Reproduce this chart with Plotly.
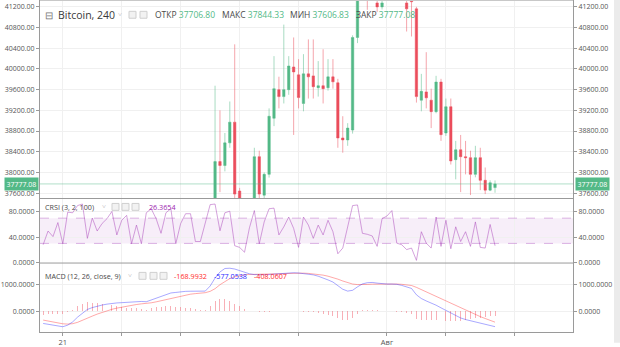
import pandas as pd
import plotly.graph_objects as go

# ---------------- data ----------------
times = pd.date_range("2021-07-20 08:00", periods=93, freq="4h")
candle_times = times[35:]

open_ = [37100, 38209, 38133, 38571, 38971, 37640, 37200, 37300, 37200, 38304,
         37560, 37962, 39047, 39600, 39466, 39600, 40038, 39886, 39333, 39905,
         39866, 39638, 39676, 39638, 39847, 39733, 38666, 38628, 38819, 40609,
         41700, 42000, 41800, 41276, 41200, 41450, 41600, 41500, 41500, 41276,
         41340, 41162, 39396, 39556, 39396, 39175, 39747, 38762, 39270, 38247,
         38438, 38304, 38285, 37962, 38285, 37847, 37657, 37706.80]
high_ = [39676, 39200, 38762, 39371, 40476, 37700, 37450, 37480, 38476, 38419,
         38000, 39238, 40248, 39850, 40857, 40248, 40609, 40190, 40286, 40571,
         40571, 40152, 40381, 40190, 40190, 39809, 39086, 38952, 40650, 41900,
         42200, 42300, 42100, 41600, 41500, 41800, 41900, 41700, 41700, 41350,
         41500, 41200, 39905, 40324, 39619, 39867, 39809, 39428, 39428, 38609,
         38724, 38609, 38419, 38514, 38476, 38095, 37847, 37844.33]
low_ = [36800, 37619, 38020, 38476, 37450, 36900, 36950, 36800, 37000, 37450,
        37400, 37900, 38895, 39238, 39333, 39500, 38724, 39238, 39181, 39428,
        39428, 39466, 39333, 39581, 39619, 38476, 38381, 38514, 38750, 40500,
        41450, 41143, 41400, 41100, 41150, 41400, 41400, 41350, 41400, 40724,
        40628, 39350, 39181, 39238, 38857, 39143, 38609, 38705, 38152, 37866,
        37619, 37962, 37562, 37905, 37657, 37581, 37638, 37606.83]
close_ = [38209, 38133, 38571, 38971, 37581, 37200, 37300, 37100, 38304, 37581,
          37962, 39085, 39619, 39466, 39600, 40057, 39943, 39447, 39905, 39848,
          39657, 39676, 39619, 39847, 39752, 38666, 38628, 38857, 40609, 41700,
          42000, 41800, 41950, 41200, 41276, 41600, 41500, 41450, 41450, 41162,
          41300, 39466, 39567, 39442, 39175, 39747, 38730, 39270, 38222, 38438,
          38304, 38285, 37962, 38285, 37847, 37657, 37800, 37777.08]

crsi = [27.9, 49.6, 40.8, 63.0, 29.4, 79.5, 78.5, 89.9, 92.4, 38.0,
        70.2, 49.6, 61.5, 69.2, 80.6, 43.4, 66.6, 74.4, 29.4, 59.0,
        29.4, 78.5, 84.9, 69.2, 46.0, 78.5, 84.9, 29.4, 61.5, 77.0,
        77.0, 33.0, 33.0, 61.5, 91.4,
        92.4, 50.0, 78.5, 81.0, 26.3, 23.7, 16.0, 54.7, 82.0, 29.4,
        64.0, 84.9, 85.9, 43.4, 56.3, 71.8, 53.7, 23.7, 71.8, 59.0,
        38.0, 59.0, 43.4, 66.6, 48.5, 13.6, 22.6, 56.3, 89.9, 90.9,
        46.0, 44.4, 41.8, 25.3, 69.2, 73.4, 82.0, 30.4, 27.9, 20.2,
        22.6, 3.1, 48.5, 30.4, 22.6, 71.8, 25.3, 66.6, 21.6, 56.3,
        33.0, 48.5, 25.3, 64.0, 23.7, 22.6, 60.0, 26.3654]

macd = [-456, -490, -530, -560, -580, -520, -400, -220, -60, 70,
        140, 200, 235, 270, 300, 315, 325, 335, 360, 380,
        370, 360, 430, 500, 560, 640, 690, 710, 735, 750,
        755, 750, 745, 760, 950,
        1250, 1480, 1610, 1620, 1590, 1530, 1460, 1410, 1380, 1370,
        1375, 1385, 1400, 1415, 1425, 1440, 1450, 1440, 1420, 1400,
        1370, 1320, 1260, 1180, 1100, 960, 830, 760, 790, 920,
        1030, 1075, 1085, 1060, 1035, 1025, 1025, 1015, 975, 920,
        860, 620, 480, 390, 320, 230, 130, 40, -60, -170,
        -250, -310, -350, -400, -440, -490, -535, -577.0538]

signal = [-330, -370, -410, -440, -470, -480, -465, -415, -345, -262,
          -180, -105, -40, 20, 75, 120, 160, 195, 225, 255,
          280, 295, 320, 355, 395, 445, 495, 540, 580, 615,
          645, 665, 680, 700, 750,
          850, 1000, 1130, 1230, 1300, 1350, 1375, 1385, 1385, 1385,
          1390, 1395, 1400, 1410, 1420, 1430, 1435, 1440, 1435, 1425,
          1410, 1390, 1360, 1320, 1270, 1210, 1140, 1075, 1025, 1005,
          1000, 1010, 1020, 1025, 1028, 1028, 1028, 1025, 1015, 995,
          970, 900, 815, 730, 650, 565, 480, 390, 300, 205,
          115, 30, -50, -130, -200, -270, -340, -408.0607]

hist = [-126, -120, -120, -120, -110, -40, 65, 195, 285, 332,
        320, 305, 275, 250, 225, 195, 165, 140, 135, 125,
        90, 65, 110, 145, 165, 195, 195, 170, 155, 135,
        110, 85, 65, 60, 200,
        400, 480, 480, 390, 290, 180, 85, 25, -5, -15,
        -15, -10, 0, 5, 5, 10, 15, 0, -15, -25,
        -40, -70, -100, -140, -170, -250, -310, -315, -235, -85,
        30, 65, 65, 35, 7, -3, -3, -10, -40, -75,
        -110, -280, -335, -340, -330, -335, -350, -350, -360, -375,
        -365, -340, -300, -270, -240, -220, -195, -168.9932]

price_ticks = [37600, 38000, 38400, 38800, 39200, 39600, 40000, 40400, 40800, 41200]
crsi_ticks = [0, 40, 80]
macd_ticks = [0, 1000]
band_low, band_high = 30, 70
x_ticks = ["2021-07-21", "2021-07-23", "2021-07-25", "2021-07-27", "2021-07-29",
           "2021-08-01", "2021-08-03", "2021-08-05 08:00"]
x_tick_labels = ["21", "", "", "", "", "Авг", "", ""]

# ---------------- style ----------------
FONT = "Open Sans"
UP = "#53b987"
DOWN = "#eb4d5c"
AX = "#9a9a9a"
GRID = "#f0f0f0"
TICKFONT = dict(family=FONT, size=7, color="#555555")

def px(x):
    return (x - 40) / 533

def py(y):
    return (337 - y) / 337

fig = go.Figure()

fig.add_trace(go.Candlestick(
    x=candle_times, open=open_, high=high_, low=low_, close=close_,
    xaxis="x2", yaxis="y",
    increasing=dict(line=dict(color="rgba(83,185,135,0.5)", width=1), fillcolor=UP),
    decreasing=dict(line=dict(color="rgba(235,77,92,0.5)", width=1), fillcolor=DOWN),
    showlegend=False, hoverinfo="skip"))
fig.add_trace(go.Scatter(x=[candle_times[-1]], y=[close_[-1]], xaxis="x2", yaxis="y4",
                         mode="markers", marker=dict(opacity=0), showlegend=False, hoverinfo="skip"))

fig.add_trace(go.Scatter(x=times, y=crsi, xaxis="x3", yaxis="y2", mode="lines",
                         line=dict(color="rgba(171,71,188,0.5)", width=1),
                         showlegend=False, hoverinfo="skip"))
fig.add_trace(go.Scatter(x=[times[-1]], y=[crsi[-1]], xaxis="x3", yaxis="y5",
                         mode="markers", marker=dict(opacity=0), showlegend=False, hoverinfo="skip"))

fig.add_trace(go.Bar(x=times, y=hist, xaxis="x", yaxis="y3",
                     width=0.2 * 4 * 3600 * 1000,
                     marker=dict(color="rgba(240,80,95,0.45)", line=dict(width=0)),
                     showlegend=False, hoverinfo="skip"))
fig.add_trace(go.Scatter(x=times, y=signal, xaxis="x", yaxis="y3", mode="lines",
                         line=dict(color="rgba(255,40,40,0.4)", width=1),
                         showlegend=False, hoverinfo="skip"))
fig.add_trace(go.Scatter(x=times, y=macd, xaxis="x", yaxis="y3", mode="lines",
                         line=dict(color="rgba(40,40,255,0.4)", width=1),
                         showlegend=False, hoverinfo="skip"))
fig.add_trace(go.Scatter(x=[times[-1]], y=[macd[-1]], xaxis="x", yaxis="y6",
                         mode="markers", marker=dict(opacity=0), showlegend=False, hoverinfo="skip"))

x_range = ["2021-07-20 05:26", "2021-08-07 07:30"]
d_main = [py(201.5), 1]
d_crsi = [py(267), py(201.5)]
d_macd = [0, py(267)]

xbase = dict(type="date", range=x_range, tickvals=x_ticks, showgrid=True,
             gridcolor=GRID, zeroline=False, domain=[0, 1])

yaxis_common = dict(showgrid=True, gridcolor=GRID, zeroline=False, showline=True,
                    linecolor=AX, ticks="outside", ticklen=3, tickcolor=AX,
                    tickfont=TICKFONT)

def fmt(vals, n):
    return [f"{v:.{n}f}" for v in vals]

main_range = [37495.2, 41333.3]
crsi_range = [-1.1, 101.1]
macd_range = [-778, 1815]

fig.update_layout(
    width=620, height=347,
    margin=dict(l=40, r=47, t=0, b=10),
    paper_bgcolor="white", plot_bgcolor="white",
    showlegend=False, bargap=0,
    xaxis=dict(xbase, anchor="y3", ticktext=x_tick_labels, ticks="outside", ticklen=3,
               tickcolor=AX, showline=True, linecolor=AX,
               tickfont=dict(family=FONT, size=7.5, color="#555555")),
    xaxis2=dict(xbase, anchor="y", matches="x", showticklabels=False,
                rangeslider=dict(visible=False)),
    xaxis3=dict(xbase, anchor="y2", matches="x", showticklabels=False),
    yaxis=dict(yaxis_common, domain=d_main, range=main_range, tickvals=price_ticks,
               ticktext=fmt(price_ticks, 2), side="left", anchor="x2"),
    yaxis4=dict(yaxis_common, overlaying="y", side="right", anchor="x2", range=main_range,
                tickvals=price_ticks, ticktext=fmt(price_ticks, 2), showgrid=False),
    yaxis2=dict(yaxis_common, domain=d_crsi, range=crsi_range, tickvals=crsi_ticks,
                ticktext=fmt(crsi_ticks, 4), side="left", anchor="x3"),
    yaxis5=dict(yaxis_common, overlaying="y2", side="right", anchor="x3", range=crsi_range,
                tickvals=crsi_ticks, ticktext=fmt(crsi_ticks, 4), showgrid=False),
    yaxis3=dict(yaxis_common, domain=d_macd, range=macd_range, tickvals=macd_ticks,
                ticktext=fmt(macd_ticks, 4), side="left", anchor="x"),
    yaxis6=dict(yaxis_common, overlaying="y3", side="right", anchor="x", range=macd_range,
                tickvals=macd_ticks, ticktext=fmt(macd_ticks, 4), showgrid=False),
)

shapes = []
# CRSI band
shapes.append(dict(type="rect", xref="x3 domain", yref="y2", x0=0, x1=1,
                   y0=band_low, y1=band_high, fillcolor="rgba(156,39,176,0.08)",
                   line=dict(width=0), layer="below"))
for b in (band_low, band_high):
    shapes.append(dict(type="line", xref="x3 domain", yref="y2", x0=0, x1=1, y0=b, y1=b,
                       line=dict(color="rgba(171,71,188,0.4)", width=1, dash="dash")))
# current price line
shapes.append(dict(type="line", xref="x2 domain", yref="y", x0=0, x1=1,
                   y0=close_[-1], y1=close_[-1],
                   line=dict(color="rgba(83,185,135,0.45)", width=1)))
# panel separators and frame
for yy in (201.5, 267):
    shapes.append(dict(type="line", xref="paper", yref="paper", x0=0, x1=1,
                       y0=py(yy), y1=py(yy), line=dict(color=AX, width=1)))
shapes.append(dict(type="line", xref="paper", yref="paper", x0=0, x1=1,
                   y0=py(0.5), y1=py(0.5), line=dict(color="#c8c8c8", width=1)))
# right grey strip
shapes.append(dict(type="rect", xref="paper", yref="paper", x0=px(614), x1=px(621),
                   y0=py(348), y1=py(-1), fillcolor="#ebebeb", line=dict(width=0)))

def icon(x, y):
    shapes.append(dict(type="rect", xref="paper", yref="paper", x0=px(x), x1=px(x + 7),
                       y0=py(y + 3.5), y1=py(y - 3.5), line=dict(color="#cfcfcf", width=1),
                       fillcolor="#f2f2f2"))

icon(129, 15); icon(140, 15)
icon(112, 210); icon(122, 210); icon(132, 210)
icon(139, 280); icon(150, 280); icon(160, 280)

ann = []
def text(x, y, s, size, color, anchor="left"):
    ann.append(dict(xref="paper", yref="paper", x=px(x), y=py(y), text=s, showarrow=False,
                    xanchor=anchor, yanchor="middle",
                    font=dict(family=FONT, size=size, color=color)))

last_color = UP if close_[-1] >= open_[-1] else DOWN
text(43, 15, "⊟", 10, "#777777")
text(56, 15, "Bitcoin, 240", 10.5, "#3a3a3a")
text(116, 15, "˅", 7, "#aaaaaa")
for xx, lab, val in ((153, "ОТКР", open_[-1]), (220, "МАКС", high_[-1]),
                     (288, "МИН", low_[-1]), (354, "ЗАКР", close_[-1])):
    text(xx, 15, f"{lab} <span style='color:{last_color}'>{val:.2f}</span>", 8.5, "#4a4a4a")

HS = 7.2
text(43, 210, "CRSI (3, 2, 100)", HS, "#4a4a4a")
text(100, 210, "˅", 7, "#aaaaaa")
text(147, 210, f"{crsi[-1]:.4f}", HS, "#9c27b0")

text(43, 280, "MACD (12, 26, close, 9)", HS, "#4a4a4a")
text(126, 280, "˅", 7, "#aaaaaa")
text(172, 280, f"{hist[-1]:.4f}", HS, "#ff2a2a")
text(212, 280, f"{macd[-1]:.4f}", HS, "#2a2aff")
text(252, 280, f"{signal[-1]:.4f}", HS, "#ff2a2a")

# price labels on both axes
for xx, anc in ((0, "right"), (1, "left")):
    ann.append(dict(xref="paper", yref="y", x=xx, y=close_[-1], text=f"{close_[-1]:.2f}",
                    showarrow=False, xanchor=anc, yanchor="middle",
                    xshift=-1 if anc == "right" else 2,
                    bgcolor=UP, borderpad=1.5,
                    font=dict(family=FONT, size=7, color="white")))

fig.update_layout(shapes=shapes, annotations=ann)
fig.write_html("out.html")
